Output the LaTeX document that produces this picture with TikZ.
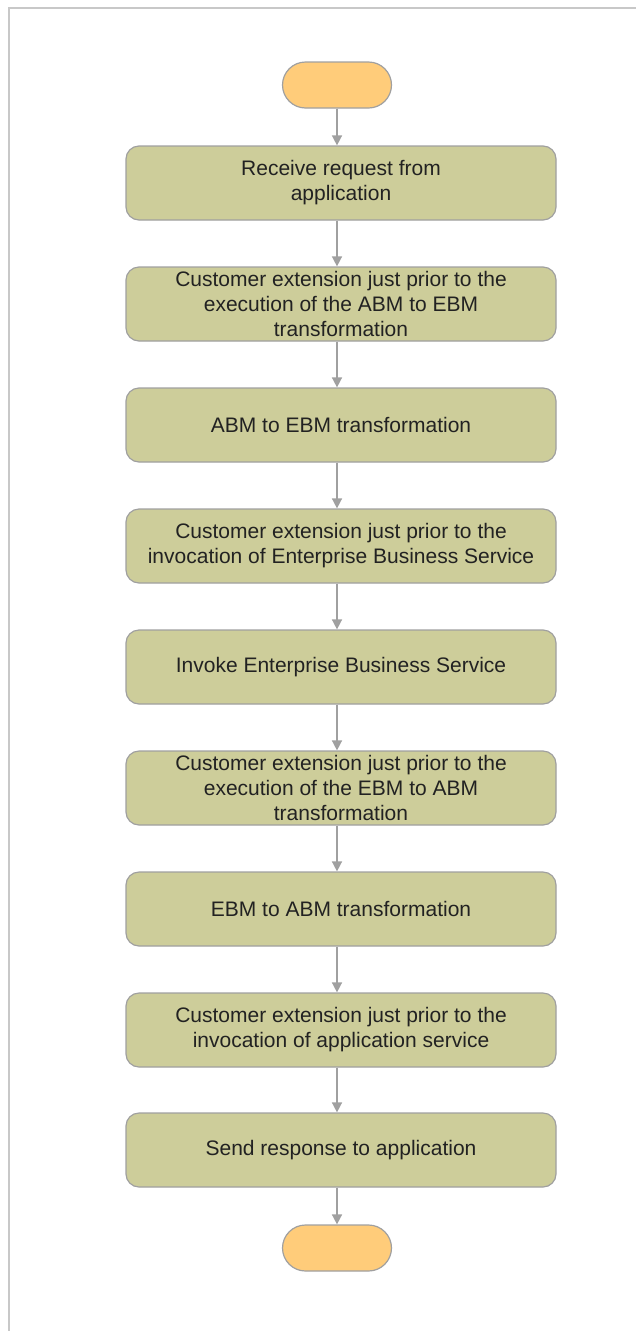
\documentclass[tikz,border=0pt]{standalone}
\usepackage{fontspec}
\setmainfont{Liberation Sans}
\usetikzlibrary{arrows.meta, positioning}
\definecolor{stepfill}{RGB}{205, 205, 154}
\definecolor{termfill}{RGB}{255, 204, 122}
\definecolor{edgegray}{RGB}{160, 160, 160}
\definecolor{flowgray}{RGB}{160, 160, 160}
\definecolor{framegray}{RGB}{200, 200, 200}
\definecolor{textdark}{RGB}{34, 34, 34}

\begin{document}
\begin{tikzpicture}[x=1pt, y=-1pt,
    stepbox/.style={draw=edgegray, fill=stepfill, line width=1.2pt, rounded corners=13pt,
        minimum width=430pt, minimum height=74pt, inner sep=0pt, align=center,
        text=textdark, font=\fontsize{21}{25}\selectfont},
    terminal/.style={draw=edgegray, fill=termfill, line width=1.2pt, rounded corners=23pt,
        minimum width=109pt, minimum height=46pt, inner sep=0pt},
    flow/.style={-{Triangle[width=10pt, length=10pt]}, draw=flowgray, fill=flowgray, line width=1.5pt}]
                \useasboundingbox (0, 0) rectangle (636, 1331);

                % Frame
                \draw[framegray, line width=2pt] (9, 1331) -- (9, 8) -- (636, 8);

                % Start and end
                \node[terminal] (start) at (337, 85) {};
                \node[terminal] (stop) at (337, 1248) {};

                % Steps
                \node[stepbox] (receive) at (341, 183) {Receive request from\\application};
                \node[stepbox] (extabm) at (341, 304) {Customer extension just prior to the\\execution of the ABM to EBM\\transformation};
                \node[stepbox] (abmebm) at (341, 425) {ABM to EBM transformation};
                \node[stepbox] (extebs) at (341, 546) {Customer extension just prior to the\\invocation of Enterprise Business Service};
                \node[stepbox] (invoke) at (341, 667) {Invoke Enterprise Business Service};
                \node[stepbox] (extebm) at (341, 788) {Customer extension just prior to the\\execution of the EBM to ABM\\transformation};
                \node[stepbox] (ebmabm) at (341, 909) {EBM to ABM transformation};
                \node[stepbox] (extapp) at (341, 1030) {Customer extension just prior to the\\invocation of application service};
                \node[stepbox] (respond) at (341, 1150) {Send response to application};

                % Flow arrows
                \foreach \a/\b in {start/receive, receive/extabm, extabm/abmebm, abmebm/extebs, extebs/invoke,
                    invoke/extebm, extebm/ebmabm, ebmabm/extapp, extapp/respond, respond/stop}
                    \draw[flow] (\a.south -| start) -- (\b.north -| start);
            \end{tikzpicture}
\end{document}
